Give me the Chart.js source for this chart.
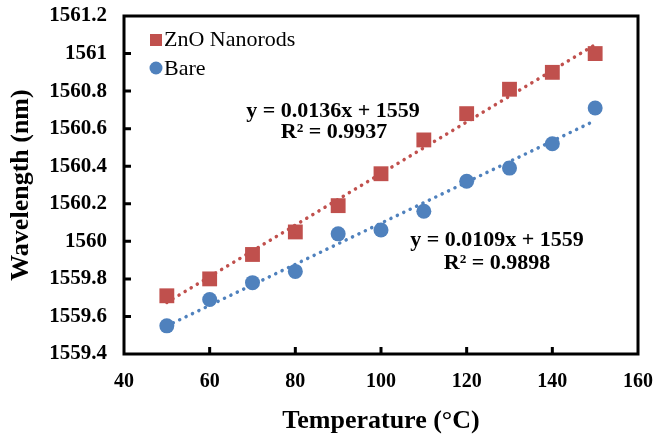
<!DOCTYPE html>
<html>
<head>
<meta charset="utf-8">
<script src="https://cdn.jsdelivr.net/npm/chart.js@4.4.0/dist/chart.umd.min.js"></script>
<style>
  html, body { margin: 0; padding: 0; background: #fff; }
  #wrap { width: 656px; height: 434px; }
</style>
</head>
<body>
<div id="wrap"><canvas id="chart"></canvas></div>
<script>
// Data
const temperatures = [50, 60, 70, 80, 90, 100, 110, 120, 130, 140, 150];
const zno = [1559.71, 1559.80, 1559.93, 1560.05, 1560.19, 1560.36, 1560.54, 1560.68, 1560.81, 1560.90, 1561.00];
const bare = [1559.55, 1559.69, 1559.78, 1559.84, 1560.04, 1560.06, 1560.16, 1560.32, 1560.39, 1560.52, 1560.71];
const seriesNames = ['ZnO Nanorods', 'Bare'];
const fitLabelsZno = ['y = 0.0136x + 1559', 'R² = 0.9937'];
const fitLabelsBare = ['y = 0.0109x + 1559', 'R² = 0.9898'];

const RED = '#C0504D';
const BLUE = '#4F81BD';
const FONT = "'Liberation Serif', 'Times New Roman', serif";

function toPoints(xs, ys) {
    return xs.map((x, i) => ({ x: x, y: ys[i] }));
}

// least squares trendline, like Excel's linear trendline
function trendline(xs, ys) {
    const n = xs.length;
    const mx = xs.reduce((a, b) => a + b, 0) / n;
    const my = ys.reduce((a, b) => a + b, 0) / n;
    let sxy = 0, sxx = 0;
    for (let i = 0; i < n; i++) {
        sxy += (xs[i] - mx) * (ys[i] - my);
        sxx += (xs[i] - mx) * (xs[i] - mx);
    }
    const m = sxy / sxx;
    const b = my - m * mx;
    const x0 = xs[0], x1 = xs[n - 1];
    return [{ x: x0, y: m * x0 + b }, { x: x1, y: m * x1 + b }];
}

// frame, inward tick marks, legend and fit equations
const decorPlugin = {
    id: 'decor',
    afterDraw(chart) {
        const ctx = chart.ctx;
        const a = chart.chartArea;
        const xs = chart.scales.x;
        const ys = chart.scales.y;
        ctx.save();
        ctx.strokeStyle = '#000';
        ctx.lineWidth = 3;
        ctx.strokeRect(a.left, a.top, a.right - a.left, a.bottom - a.top);

        ctx.lineWidth = 3;
        ctx.beginPath();
        xs.ticks.forEach(t => {
            const px = xs.getPixelForValue(t.value);
            if (px <= a.left + 2 || px >= a.right - 2) return;
            ctx.moveTo(px, a.bottom);
            ctx.lineTo(px, a.bottom - 7);
        });
        ys.ticks.forEach(t => {
            const py = ys.getPixelForValue(t.value);
            if (py <= a.top + 2 || py >= a.bottom - 2) return;
            ctx.moveTo(a.left, py);
            ctx.lineTo(a.left + 7, py);
        });
        ctx.stroke();

        // legend
        ctx.font = '22px ' + FONT;
        ctx.textAlign = 'left';
        ctx.textBaseline = 'middle';
        ctx.fillStyle = RED;
        ctx.fillRect(150, 34, 12, 12);
        ctx.fillStyle = BLUE;
        ctx.beginPath();
        ctx.arc(156, 68, 6.5, 0, Math.PI * 2);
        ctx.fill();
        ctx.fillStyle = '#000';
        ctx.fillText(seriesNames[0], 164, 40);
        ctx.fillText(seriesNames[1], 164, 69);

        // fit equations
        ctx.font = 'bold 22px ' + FONT;
        ctx.textAlign = 'center';
        ctx.fillText(fitLabelsZno[0], 333, 111);
        ctx.fillText(fitLabelsZno[1], 334, 132);
        ctx.fillText(fitLabelsBare[0], 497, 240);
        ctx.fillText(fitLabelsBare[1], 497, 263);
        ctx.restore();
    }
};

new Chart(document.getElementById('chart'), {
    type: 'scatter',
    data: {
        datasets: [
            {
                label: seriesNames[0],
                data: toPoints(temperatures, zno),
                pointStyle: 'rect',
                pointRadius: 10.5,
                backgroundColor: RED,
                borderColor: RED,
                borderWidth: 0,
                order: 1
            },
            {
                label: seriesNames[1],
                data: toPoints(temperatures, bare),
                pointStyle: 'circle',
                pointRadius: 7.5,
                backgroundColor: BLUE,
                borderColor: BLUE,
                borderWidth: 0,
                order: 1
            },
            {
                label: 'zno fit',
                data: trendline(temperatures, zno),
                showLine: true,
                pointRadius: 0,
                borderColor: RED,
                borderWidth: 3.5,
                borderDash: [0.1, 7],
                borderCapStyle: 'round',
                order: 2
            },
            {
                label: 'bare fit',
                data: trendline(temperatures, bare),
                showLine: true,
                pointRadius: 0,
                borderColor: BLUE,
                borderWidth: 3.5,
                borderDash: [0.1, 7],
                borderCapStyle: 'round',
                order: 2
            }
        ]
    },
    options: {
        responsive: true,
        maintainAspectRatio: false,
        animation: false,
        layout: { padding: { left: 0, top: 16, right: 18, bottom: 0 } },
        plugins: {
            legend: { display: false },
            tooltip: { enabled: false }
        },
        scales: {
            x: {
                type: 'linear',
                min: 40,
                max: 160,
                ticks: {
                    stepSize: 20,
                    padding: 16,
                    color: '#000',
                    font: { family: FONT, size: 20, weight: 'bold' }
                },
                grid: { display: false, drawTicks: false },
                border: { display: false },
                title: {
                    display: true,
                    text: 'Temperature (°C)',
                    color: '#000',
                    font: { family: FONT, size: 26, weight: 'bold' },
                    padding: { top: 0, bottom: -3 }
                },
                afterFit: function(scale) {
                    scale.height = 80;
                    scale.paddingLeft = 0;
                    scale.paddingRight = 0;
                }
            },
            y: {
                type: 'linear',
                min: 1559.4,
                max: 1561.2,
                ticks: {
                    stepSize: 0.2,
                    padding: 17,
                    color: '#000',
                    font: { family: FONT, size: 21, weight: 'bold' },
                    callback: function(value) {
                        return String(parseFloat(value.toFixed(1)));
                    }
                },
                grid: { display: false, drawTicks: false },
                border: { display: false },
                title: {
                    display: true,
                    text: 'Wavelength (nm)',
                    color: '#000',
                    font: { family: FONT, size: 26, weight: 'bold' },
                    padding: { top: 6, bottom: 0 }
                },
                afterFit: function(scale) {
                    scale.width = 124;
                    scale.paddingTop = 0;
                    scale.paddingBottom = 0;
                }
            }
        }
    },
    plugins: [decorPlugin]
});
</script>
</body>
</html>
